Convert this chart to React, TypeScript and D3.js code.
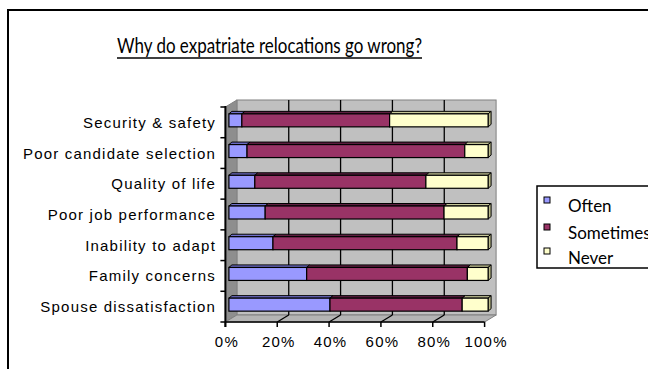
import React from "react";
import * as d3 from "d3";

const categories = [
  "Security & safety",
  "Poor candidate selection",
  "Quality of life",
  "Poor job performance",
  "Inability to adapt",
  "Family concerns",
  "Spouse dissatisfaction",
];
const often = [5, 7, 10, 14, 17, 30, 39];
const sometimes = [57, 84, 66, 69, 71, 62, 51];
const never = [38, 9, 24, 17, 12, 8, 10];
const seriesNames = ["Often", "Sometimes", "Never"];
const ticks = [0, 20, 40, 60, 80, 100];
const title = "Why do expatriate relocations go wrong?";

const frontCols = ["#9999FF", "#993366", "#FFFFCC"];
const topCols = ["#6E6EC8", "#5E1E40", "#C8C898"];
const sideCols = ["#6E6EC8", "#5E1E40", "#B8B888"];

export default function App() {
  const X0 = 225.4, X1 = 484.6, Y0 = 107, Y1 = 322;
  const DX = 11.5, DY = -7;
  const x = d3.scaleLinear().domain([0, 100]).range([X0, X1]);
  const y = d3.scaleBand().domain(categories).range([Y0, Y1]).paddingInner(0).paddingOuter(0);
  const bw = y.bandwidth();
  const barH = 13;
  const bsx = 3.5, bsy = -2;
  const bdx = 3, bdy = -2.5;
  const series = [often, sometimes, never];
  const font = "'Liberation Sans', Arial, sans-serif";

  const bars: React.ReactNode[] = [];
  categories.forEach((c, i) => {
    let cum = 0;
    const yc = (y(c) as number) + bw / 2 + bsy;
    const yt = yc - barH / 2;
    series.forEach((s, k) => {
      const a = cum, b = cum + s[i];
      cum = b;
      const xa = x(a) + bsx, xb = x(b) + bsx;
      bars.push(
        <g key={`${i}-${k}`}>
          <polygon
            points={`${xa},${yt} ${xa + bdx},${yt + bdy} ${xb + bdx},${yt + bdy} ${xb},${yt}`}
            fill={topCols[k]} stroke="#000" strokeWidth={1}
          />
          {k === 2 && (
            <polygon
              points={`${xb},${yt} ${xb + bdx},${yt + bdy} ${xb + bdx},${yt + barH + bdy} ${xb},${yt + barH}`}
              fill={sideCols[k]} stroke="#000" strokeWidth={1}
            />
          )}
          <rect x={xa} y={yt} width={xb - xa} height={barH} fill={frontCols[k]} stroke="#000" strokeWidth={1.2} />
        </g>
      );
    });
  });

  const boundaries = d3.range(categories.length + 1).map((j) => Y0 + j * bw);

  return (
    <svg width={648} height={369} style={{ position: "absolute", left: 0, top: 0, background: "#fff" }}>
      <rect x={8} y={10} width={700} height={400} fill="none" stroke="#000" strokeWidth={2} />
      <text x={117} y={53} fontFamily="Lato, 'Open Sans', sans-serif" fontSize={21} textLength={305} lengthAdjust="spacingAndGlyphs" fill="#000">
        {title}
      </text>
      <line x1={117} x2={422} y1={58} y2={58} stroke="#000" strokeWidth={1.5} />

      <rect x={X0 + DX} y={Y0 + DY} width={X1 - X0} height={Y1 - Y0} fill="#C0C0C0" stroke="#808080" strokeWidth={1} />
      <polygon points={`${X0},${Y0} ${X0 + DX},${Y0 + DY} ${X0 + DX},${Y1 + DY} ${X0},${Y1}`} fill="#8E8E8E" stroke="#808080" strokeWidth={1} />
      <polygon points={`${X0},${Y1} ${X1},${Y1} ${X1 + DX},${Y1 + DY} ${X0 + DX},${Y1 + DY}`} fill="#B4B4B4" stroke="#808080" strokeWidth={1} />
      {ticks.slice(1, -1).map((t) => (
        <g key={t}>
          <line x1={x(t) + DX} x2={x(t) + DX} y1={Y0 + DY} y2={Y1 + DY} stroke="#000" strokeWidth={1.3} />
          <line x1={x(t)} x2={x(t) + DX} y1={Y1} y2={Y1 + DY} stroke="#000" strokeWidth={1.3} />
        </g>
      ))}

      {bars}

      <line x1={X0} x2={X0} y1={Y0 - 1} y2={Y1 + 5} stroke="#000" strokeWidth={2} />
      {boundaries.map((b, j) => (
        <line key={j} x1={X0 - 5} x2={X0} y1={b} y2={b} stroke="#000" strokeWidth={1.5} />
      ))}
      <line x1={X0} x2={X1} y1={Y1} y2={Y1} stroke="#000" strokeWidth={1.5} />
      {ticks.map((t) => (
        <line key={t} x1={x(t)} x2={x(t)} y1={Y1} y2={Y1 + 5} stroke="#000" strokeWidth={1.5} />
      ))}
      {categories.map((c) => (
        <text key={c} x={216} y={(y(c) as number) + bw / 2} textAnchor="end" dominantBaseline="central"
          fontFamily={font} fontSize={15} letterSpacing={1.2} fill="#000">
          {c}
        </text>
      ))}
      {ticks.map((t) => (
        <text key={t} x={x(t) + 1.5} y={341} textAnchor="middle" dominantBaseline="central"
          fontFamily={font} fontSize={15} letterSpacing={1.2} fill="#000">
          {`${t}%`}
        </text>
      ))}

      <rect x={537} y={186} width={150} height={82} fill="#fff" stroke="#000" strokeWidth={1.5} />
      {seriesNames.map((n, k) => (
        <g key={n}>
          <rect x={544} y={[197, 224, 248][k]} width={6} height={6} fill={frontCols[k]} stroke="#000" strokeWidth={1} />
          <text x={568} y={[212, 239, 264][k]} fontFamily="Lato, 'Open Sans', sans-serif" fontSize={17} fill="#000">
            {n}
          </text>
        </g>
      ))}
    </svg>
  );
}
